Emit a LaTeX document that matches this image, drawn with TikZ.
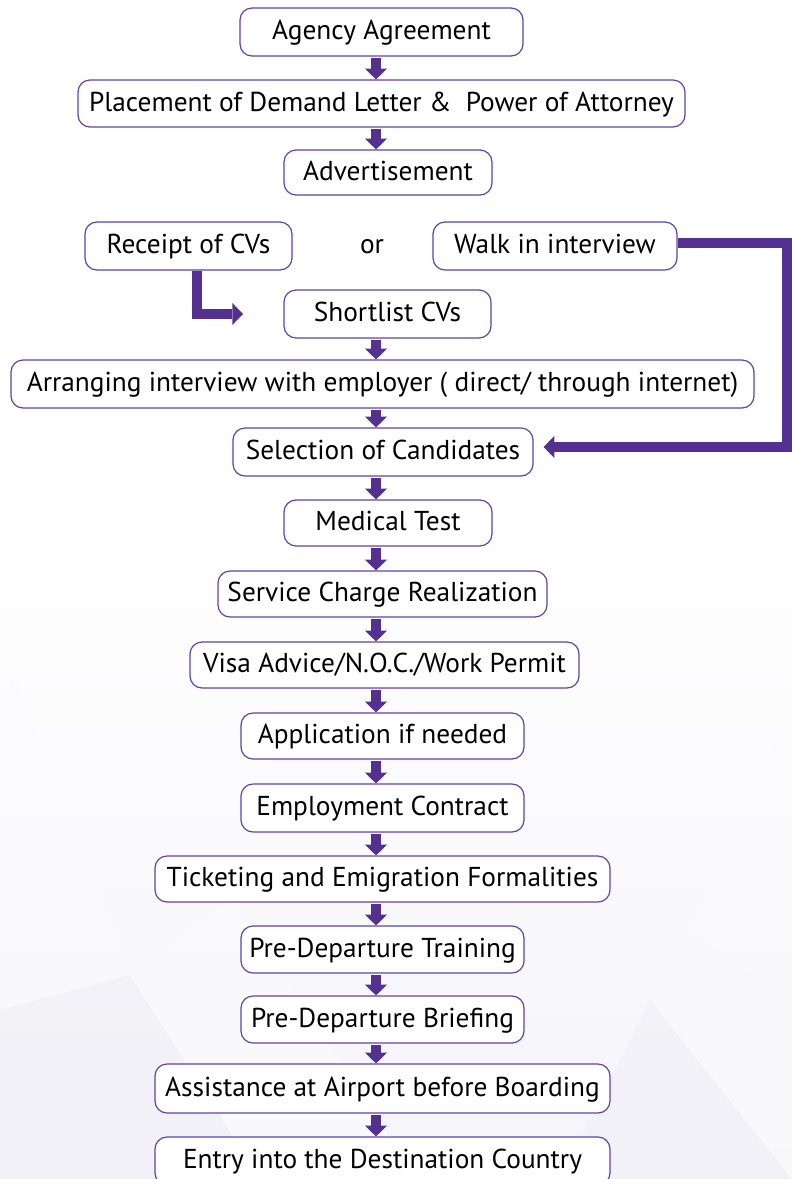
\documentclass[tikz,border=0pt]{standalone}
\usepackage{fontspec}
\setmainfont{PT Sans}
\usetikzlibrary{arrows.meta}
\definecolor{frame}{RGB}{98,66,168}
\definecolor{flow}{RGB}{84,48,144}
\definecolor{hazeA}{RGB}{245,244,249}
\definecolor{hazeB}{RGB}{240,239,246}
\definecolor{hazeC}{RGB}{251,251,253}
\newcommand\pxu{0.75pt}
\begin{document}
\begin{tikzpicture}[x=0.75pt,y=-0.75pt,
  stepbox/.style={draw=frame, line width=0.9pt, rounded corners=9pt, fill=white,
    inner sep=0pt, font=\fontsize{20.5}{25}\selectfont, text height=14.4pt, text depth=2.6pt},
  flowline/.style={draw=flow, line width=7.5pt},
  tip/.style={-{Triangle[width=16.5pt,length=8pt,line width=0pt]}},
  down/.style={flowline, tip, shorten <=1pt}
]
% canvas and faint background facets
\useasboundingbox (0,0) rectangle (792,1179);
\fill[white] (0,0) rectangle (792,1179);
\shade[top color=white, bottom color=hazeA] (0,520) rectangle (792,1179);
\begin{scope}[opacity=0.6]
\fill[hazeC] (0,700) -- (15,675) -- (130,975) -- (0,1010) -- cycle;
\fill[hazeB] (0,1010) -- (130,975) -- (260,1179) -- (0,1179) -- cycle;
\fill[hazeC] (260,1179) -- (130,975) -- (230,900) -- (420,1179) -- cycle;
\fill[hazeC] (792,700) -- (690,930) -- (792,1000) -- cycle;
\fill[hazeB] (560,1179) -- (650,1000) -- (792,1179) -- cycle;
\fill[hazeC] (650,1000) -- (792,1000) -- (792,1179) -- cycle;
\end{scope}

% guide line for the vertical arrows
\coordinate (axis) at (376,0);

% steps
\node[stepbox, minimum width=283*\pxu, minimum height=48*\pxu] (agree) at (381.5,32) {Agency Agreement};
\node[stepbox, minimum width=607*\pxu, minimum height=47*\pxu] (demand) at (381.5,103.5) {Placement of Demand Letter \&\ \ Power of Attorney};
\node[stepbox, minimum width=208*\pxu, minimum height=45*\pxu] (advert) at (388,172.5) {Advertisement};
\node[stepbox, minimum width=207*\pxu, minimum height=48*\pxu] (receipt) at (188.5,246) {Receipt of CVs};
\node[font=\fontsize{20.5}{25}\selectfont, inner sep=0pt, text height=14.4pt, text depth=2.6pt] (or) at (372,246) {or};
\node[stepbox, minimum width=244*\pxu, minimum height=48*\pxu] (walkin) at (555,246) {Walk in interview};
\node[stepbox, minimum width=207*\pxu, minimum height=48*\pxu] (short) at (387.5,314) {Shortlist CVs};
\node[stepbox, minimum width=743*\pxu, minimum height=48*\pxu] (arrange) at (382.5,384) {Arranging interview with employer ( direct/ through internet)};
\node[stepbox, minimum width=300*\pxu, minimum height=48*\pxu] (select) at (383,452) {Selection of Candidates};
\node[stepbox, minimum width=208*\pxu, minimum height=46*\pxu] (medical) at (388,523) {Medical Test};
\node[stepbox, minimum width=329*\pxu, minimum height=46*\pxu] (charge) at (382.5,594) {Service Charge Realization};
\node[stepbox, minimum width=389*\pxu, minimum height=46*\pxu] (visa) at (384.5,665) {Visa Advice/N.O.C./Work Permit};
\node[stepbox, minimum width=283*\pxu, minimum height=46*\pxu] (apply) at (382.5,736) {Application if needed};
\node[stepbox, minimum width=283*\pxu, minimum height=48*\pxu] (contract) at (382.5,808) {Employment Contract};
\node[stepbox, minimum width=455*\pxu, minimum height=46*\pxu] (ticket) at (382.5,879) {Ticketing and Emigration Formalities};
\node[stepbox, minimum width=283*\pxu, minimum height=47*\pxu] (training) at (382.5,949.5) {Pre-Departure Training};
\node[stepbox, minimum width=283*\pxu, minimum height=47*\pxu] (briefing) at (382.5,1019.5) {Pre-Departure Briefing};
\node[stepbox, minimum width=455*\pxu, minimum height=49*\pxu] (airport) at (382.5,1088.5) {Assistance at Airport before Boarding};
\node[stepbox, minimum width=455*\pxu, minimum height=48*\pxu] (entry) at (382.5,1161) {Entry into the Destination Country};

% straight flow
\foreach \a/\b in {agree/demand, demand/advert, short/arrange, arrange/select,
    select/medical, medical/charge, charge/visa, visa/apply, apply/contract,
    contract/ticket, ticket/training, training/briefing, briefing/airport, airport/entry}
  \draw[down] (\a.south -| axis) -- (\b.north -| axis);

% CVs received go to shortlisting
\coordinate (cvdrop) at (196.5,0);
\coordinate (cvtip) at (243,314);
\draw[flowline, tip] (receipt.south -| cvdrop) |- (cvtip);

% walk-in candidates go straight to selection
\coordinate (rail) at (787,0);
\draw[flowline, tip, shorten >=7.5pt]
  ([yshift=2.25pt]walkin.east) -- ([yshift=2.25pt]walkin.east -| rail)
  |- ([yshift=3.75pt]select.east);
\end{tikzpicture}
\end{document}
